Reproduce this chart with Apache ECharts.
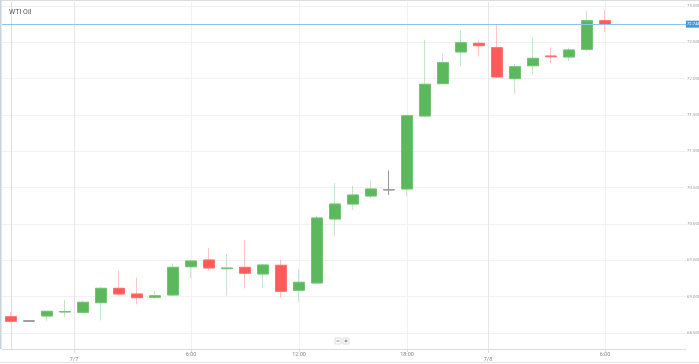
<!DOCTYPE html>
<html>
<head>
<meta charset="utf-8">
<script src="https://cdn.jsdelivr.net/npm/echarts@6/dist/echarts.min.js"></script>
<style>html,body{margin:0;padding:0;background:#fff}#c{width:699px;height:364px}</style>
</head>
<body>
<div id="c"></div>
<script>
// OHLC values (hourly candles)
var opens  = [68.724,68.665,68.734,68.789,68.785,68.917,69.115,69.037,68.991,69.023,69.412,69.505,69.385,69.404,69.312,69.432,69.088,69.188,70.069,70.275,70.385,70.472,70.482,71.486,71.931,72.367,72.487,72.426,72.000,72.178,72.312,72.298,72.404,72.798];
var closes = [68.661,68.665,68.799,68.796,68.923,69.115,69.037,68.986,69.013,69.404,69.491,69.395,69.395,69.322,69.436,69.074,69.198,70.083,70.275,70.399,70.482,70.472,71.490,71.923,72.220,72.495,72.454,72.023,72.165,72.280,72.302,72.395,72.798,72.748];
var lows   = [68.642,68.660,68.665,68.716,68.771,68.669,69.019,68.895,68.968,69.009,69.253,69.358,69.019,69.110,69.115,68.986,68.931,69.181,69.835,70.193,70.354,70.399,70.385,71.477,71.927,72.178,72.302,72.013,71.793,72.055,72.211,72.243,72.371,72.642];
var highs  = [68.793,68.670,68.799,68.954,68.945,69.137,69.358,69.261,69.074,69.459,69.514,69.670,69.587,69.780,69.450,69.505,69.381,70.110,70.564,70.523,70.601,70.739,71.500,72.536,72.344,72.666,72.528,72.739,72.202,72.564,72.432,72.426,72.931,72.952];
var emptySlots = 4;
var yTicks = [68.5,69.0,69.5,70.0,70.5,71.0,71.5,72.0,72.5,73.0];
var timeTickPos = [10,16,22,33];
var timeTickLabels = ['6:00','12:00','18:00','6:00'];
var dayTickPos = [3.5,26.5];
var dayTickLabels = ['7/7','7/8'];
var lastPrice = closes[closes.length-1];

var cats = [];
for (var i = 0; i < opens.length + emptySlots; i++) cats.push(String(i));
var full = [], bodies = [];
for (var i = 0; i < opens.length; i++) {
  full.push([opens[i], closes[i], lows[i], highs[i]]);
  bodies.push([opens[i], closes[i], Math.min(opens[i],closes[i]), Math.max(opens[i],closes[i])]);
}
var nSlots = cats.length;

var chart = echarts.init(document.getElementById('c'), null, {renderer:'canvas'});
chart.setOption({
  animation:false,
  backgroundColor:'#fff',
  title:{text:'WTI Oil', left:4, top:4, textStyle:{fontSize:7, fontWeight:'normal', color:'#555', fontFamily:'Roboto'}},
  grid:{left:2, top:2, width:684, bottom:15, show:false, containLabel:false, outerBoundsMode:'none'},
  xAxis:[
    {type:'category', data:cats, boundaryGap:true, axisLine:{show:true, lineStyle:{color:'#dcdcdc'}}, axisTick:{show:false}, axisLabel:{show:false}, splitLine:{show:false}},
    {type:'value', min:-0.5, max:nSlots-0.5, position:'bottom', axisLine:{show:false},
      axisTick:{show:true, customValues:timeTickPos, length:3, inside:false, lineStyle:{color:'#ddd'}},
      axisLabel:{show:true, customValues:timeTickPos, margin:3, fontSize:5.5, color:'#888', fontFamily:'Roboto',
        formatter:function(v){var k=timeTickPos.indexOf(v);return k>=0?timeTickLabels[k]:'';}},
      splitLine:{show:true, lineStyle:{color:'#f1f1f1', width:1}}},
    {type:'value', min:-0.5, max:nSlots-0.5, position:'bottom', axisLine:{show:false},
      axisTick:{show:true, customValues:dayTickPos, length:4, lineStyle:{color:'#ddd'}},
      axisLabel:{show:true, customValues:dayTickPos, margin:8, fontSize:5.5, color:'#888', fontFamily:'Roboto',
        formatter:function(v){var k=dayTickPos.indexOf(v);return k>=0?dayTickLabels[k]:'';}},
      splitLine:{show:true, lineStyle:{color:'#e6e6e6', width:1}}}
  ],
  yAxis:{type:'value', position:'right', min:68.28, max:73.055, scale:true,
    axisLine:{show:true, lineStyle:{color:'#dcdcdc'}},
    axisTick:{show:false, customValues:yTicks},
    axisLabel:{customValues:yTicks, inside:false, margin:1, fontSize:4.3, color:'#999', fontFamily:'Roboto',
      formatter:function(v){return v.toFixed(3);}},
    splitLine:{show:true, lineStyle:{color:'#f1f1f1'}}},
  series:[
    {type:'candlestick', xAxisIndex:0, data:full, barWidth:12,
      itemStyle:{color:'rgba(92,184,92,0.35)', color0:'rgba(255,90,90,0.35)', borderColor:'rgba(92,184,92,0.35)', borderColor0:'rgba(255,90,90,0.35)', borderColorDoji:'#999', borderWidth:1},
      markLine:{silent:true, symbol:['none','none'], data:[{yAxis:lastPrice}],
        lineStyle:{color:'#8cc4ee', type:'solid', width:1},
        label:{show:true, position:'end', distance:0, formatter:function(){return lastPrice.toFixed(3);}, fontSize:4.2, color:'#fff', backgroundColor:'#3d9be3', padding:[2,1,1,1], fontFamily:'Roboto'}}},
    {type:'candlestick', xAxisIndex:0, data:bodies, barWidth:12,
      itemStyle:{color:'#5cb85c', color0:'#ff5a5a', borderColor:'#74c474', borderColor0:'#ff7070', borderColorDoji:'#999', borderWidth:1}}
  ],
  graphic:[
    {type:'rect', shape:{x:0,y:0,width:699,height:1}, style:{fill:'#dddddd'}, silent:true},
    {type:'rect', shape:{x:0,y:0,width:1.5,height:349}, style:{fill:'#c9d3de'}, silent:true},
    {type:'rect', shape:{x:0,y:362,width:699,height:1}, style:{fill:'#e3e3e3'}, silent:true},
    {type:'rect', shape:{x:335,y:338,width:6,height:6}, style:{fill:'#fff', stroke:'#ddd', lineWidth:1}, silent:true},
    {type:'rect', shape:{x:343,y:338,width:6,height:6}, style:{fill:'#fff', stroke:'#ddd', lineWidth:1}, silent:true},
    {type:'rect', shape:{x:336.5,y:340.6,width:3,height:0.8}, style:{fill:'#666'}, silent:true},
    {type:'rect', shape:{x:344.5,y:340.6,width:3,height:0.8}, style:{fill:'#666'}, silent:true},
    {type:'rect', shape:{x:345.6,y:339.5,width:0.8,height:3}, style:{fill:'#666'}, silent:true}
  ]
});
</script>
</body>
</html>
